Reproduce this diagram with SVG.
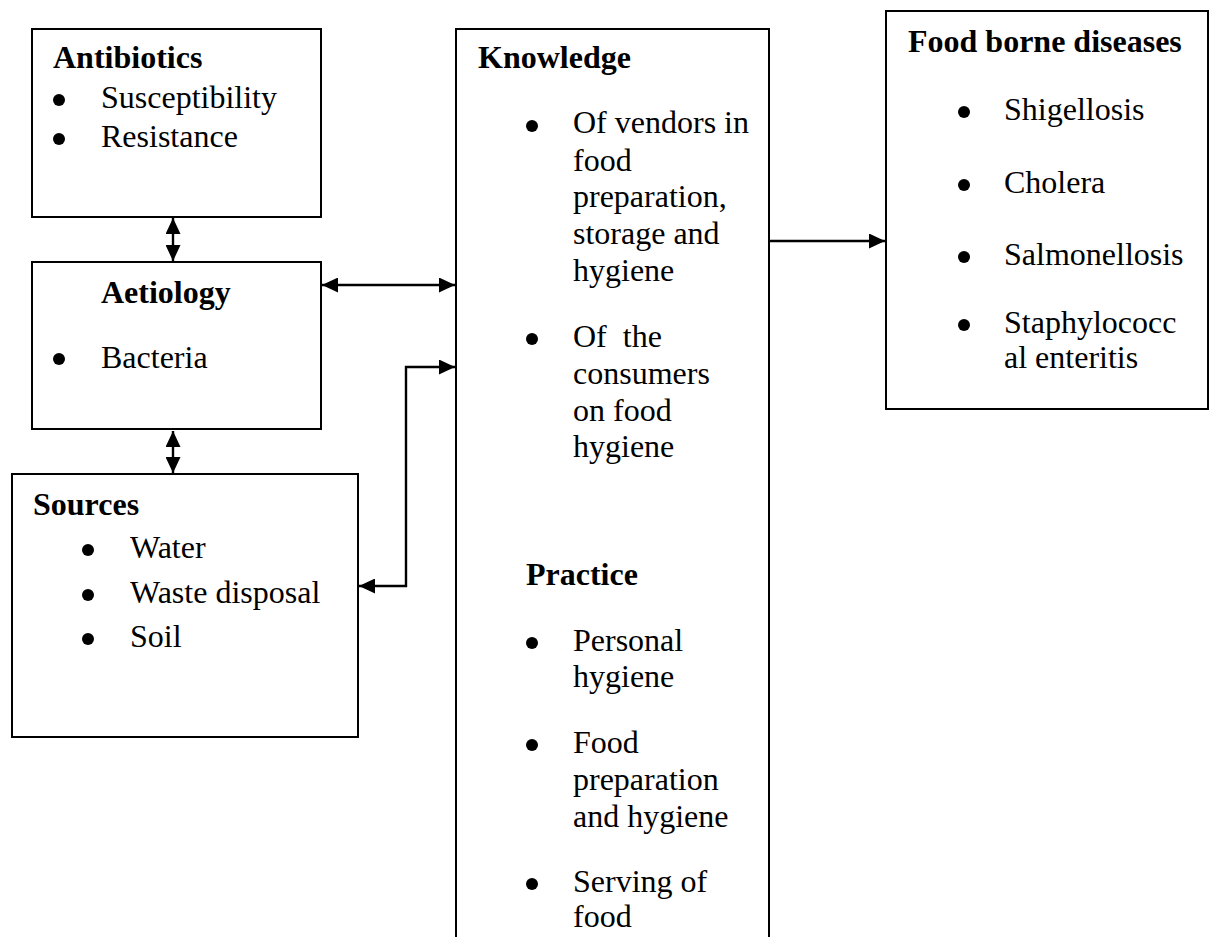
<svg xmlns="http://www.w3.org/2000/svg" width="1209" height="937" viewBox="0 0 1209 937">
<style>
.box{fill:#fff;stroke:#000;stroke-width:2}
.t{font-family:"Liberation Serif","Times New Roman",serif;font-size:32px;fill:#000}
.h{font-family:"Liberation Serif","Times New Roman",serif;font-size:32px;font-weight:bold;fill:#000}
.b{fill:#000}
.c{fill:none;stroke:#000;stroke-width:2.4}
</style>
<defs>
<marker id="ah" markerUnits="userSpaceOnUse" markerWidth="17" markerHeight="15" refX="16" refY="7.5" orient="auto-start-reverse">
<path d="M0,0 L16,7.5 L0,15 z" fill="#000"/>
</marker>
</defs>
<rect width="1209" height="937" fill="#fff"/>
<g id="antibiotics">
<rect class="box" x="32" y="29" width="289" height="188"/>
<text class="h" x="53" y="68">Antibiotics</text>
<circle class="b" cx="59" cy="100" r="6"/>
<text class="t" x="101" y="108">Susceptibility</text>
<circle class="b" cx="59" cy="139" r="6"/>
<text class="t" x="101" y="147">Resistance</text>
</g>
<g id="aetiology">
<rect class="box" x="32" y="262" width="289" height="167"/>
<text class="h" x="101" y="303">Aetiology</text>
<circle class="b" cx="59" cy="359" r="6"/>
<text class="t" x="101" y="368">Bacteria</text>
</g>
<g id="sources">
<rect class="box" x="12" y="474" width="346" height="263"/>
<text class="h" x="33" y="515">Sources</text>
<circle class="b" cx="88" cy="550" r="6"/>
<text class="t" x="130" y="558">Water</text>
<circle class="b" cx="88" cy="595" r="6"/>
<text class="t" x="130" y="603">Waste disposal</text>
<circle class="b" cx="88" cy="639" r="6"/>
<text class="t" x="130" y="647">Soil</text>
</g>
<g id="knowledge">
<rect class="box" x="456" y="29" width="313" height="930"/>
<text class="h" x="478" y="68">Knowledge</text>
<circle class="b" cx="532" cy="126" r="6"/>
<text class="t" x="573" y="133">Of vendors in</text>
<text class="t" x="573" y="171">food</text>
<text class="t" x="573" y="207">preparation,</text>
<text class="t" x="573" y="244">storage and</text>
<text class="t" x="573" y="281">hygiene</text>
<circle class="b" cx="532" cy="339" r="6"/>
<text class="t" x="573" y="347" xml:space="preserve">Of  the</text>
<text class="t" x="573" y="384">consumers</text>
<text class="t" x="573" y="421">on food</text>
<text class="t" x="573" y="457">hygiene</text>
<text class="h" x="526" y="585">Practice</text>
<circle class="b" cx="532" cy="643" r="6"/>
<text class="t" x="573" y="651">Personal</text>
<text class="t" x="573" y="687">hygiene</text>
<circle class="b" cx="532" cy="745" r="6"/>
<text class="t" x="573" y="753">Food</text>
<text class="t" x="573" y="790">preparation</text>
<text class="t" x="573" y="827">and hygiene</text>
<circle class="b" cx="532" cy="884" r="6"/>
<text class="t" x="573" y="892">Serving of</text>
<text class="t" x="573" y="927">food</text>
</g>
<g id="foodborne">
<rect class="box" x="886" y="11" width="322" height="398"/>
<text class="h" x="908" y="52">Food borne diseases</text>
<circle class="b" cx="964" cy="112" r="6"/>
<text class="t" x="1004" y="120">Shigellosis</text>
<circle class="b" cx="964" cy="185" r="6"/>
<text class="t" x="1004" y="193">Cholera</text>
<circle class="b" cx="964" cy="257" r="6"/>
<text class="t" x="1004" y="265">Salmonellosis</text>
<circle class="b" cx="964" cy="325" r="6"/>
<text class="t" x="1004" y="333">Staphylococc</text>
<text class="t" x="1004" y="368">al enteritis</text>
</g>
<g id="connectors">
<line class="c" x1="173" y1="218" x2="173" y2="261" marker-start="url(#ah)" marker-end="url(#ah)"/>
<line class="c" x1="322" y1="285" x2="455" y2="285" marker-start="url(#ah)" marker-end="url(#ah)"/>
<line class="c" x1="173" y1="431" x2="173" y2="473" marker-start="url(#ah)" marker-end="url(#ah)"/>
<path class="c" d="M455,367 H406 V586 H359" marker-start="url(#ah)" marker-end="url(#ah)"/>
<line class="c" x1="770" y1="241" x2="885" y2="241" marker-end="url(#ah)"/>
</g>
</svg>
